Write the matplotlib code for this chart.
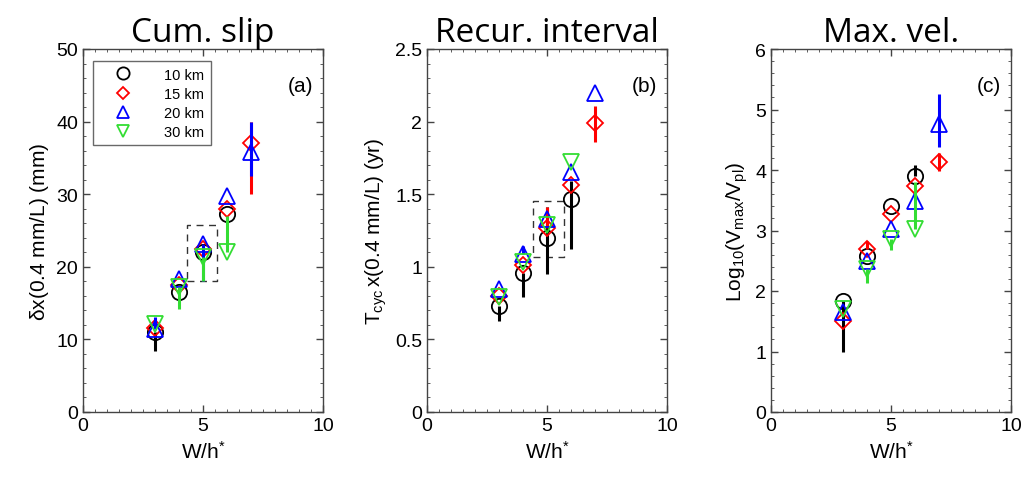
import numpy as np
import matplotlib
matplotlib.use("Agg")
import matplotlib.pyplot as plt

# ── data ──────────────────────────────────────────────────────────────────
LABELS = ["10 km", "15 km", "20 km", "30 km"]
COLORS = ["black", "red", "blue", "#33dd33"]
MARKERS = ["o", "D", "^", "v"]

W_A = [[3, 4, 5, 6], [3, 4, 5, 6, 7], [3, 4, 5, 6, 7], [3, 4, 5, 6]]
SLIP = [[11.0, 16.5, 22.0, 27.3],
        [11.6, 17.5, 22.5, 28.0, 37.0],
        [11.4, 18.3, 23.1, 29.8, 35.8],
        [12.1, 17.2, 21.3, 22.0]]
SLIP_LO = [[8.4, 16.5, 22.0, 27.3],
           [11.6, 17.5, 22.5, 28.0, 30.0],
           [11.4, 18.3, 18.0, 29.8, 32.5],
           [12.1, 14.2, 18.0, 22.0]]
SLIP_HI = [[11.0, 16.5, 22.0, 27.3],
           [11.6, 17.5, 22.5, 28.0, 40.0],
           [13.1, 18.3, 23.1, 29.8, 40.0],
           [12.1, 17.2, 21.3, 27.0]]

W_B = W_A
TCYC = [[0.73, 0.96, 1.20, 1.47],
        [0.80, 1.01, 1.27, 1.56, 1.99],
        [0.85, 1.09, 1.33, 1.65, 2.20],
        [0.79, 1.03, 1.29, 1.72]]
TCYC_LO = [[0.63, 0.79, 0.95, 1.12],
           [0.80, 1.01, 1.27, 1.56, 1.86],
           [0.85, 1.09, 1.33, 1.65, 2.20],
           [0.79, 1.03, 1.29, 1.72]]
TCYC_HI = [[0.73, 0.96, 1.41, 1.59],
           [0.80, 1.01, 1.41, 1.56, 2.11],
           [0.85, 1.14, 1.33, 1.65, 2.20],
           [0.79, 1.03, 1.29, 1.72]]

W_C = W_A
VMAX = [[1.84, 2.58, 3.40, 3.90],
        [1.51, 2.69, 3.27, 3.74, 4.13],
        [1.65, 2.50, 3.02, 3.49, 4.76],
        [1.70, 2.36, 2.86, 3.02]]
VMAX_LO = [[0.99, 2.58, 3.40, 3.90],
           [1.51, 2.69, 3.27, 3.74, 3.98],
           [1.65, 2.50, 3.02, 3.49, 4.38],
           [1.70, 2.14, 2.67, 3.02]]
VMAX_HI = [[1.84, 2.58, 3.40, 4.08],
           [1.51, 2.83, 3.27, 3.74, 4.28],
           [1.65, 2.50, 3.02, 3.49, 5.26],
           [1.70, 2.36, 2.86, 3.80]]

# dashed boxes (x0, x1, y0, y1)
BOX_A = (4.35, 5.6, 18.0, 25.7)
BOX_B = (4.4, 5.7, 1.07, 1.45)

TITLES = ["Cum. slip", "Recur. interval", "Max. vel."]
YLABELS = [r"$\mathregular{\delta x(0.4\ mm/L)\ (mm)}$",
           r"$\mathregular{T_{cyc}\, x(0.4\ mm/L)\ (yr)}$",
           r"$\mathregular{Log_{10}(V_{max}/V_{pl})}$"]
PANELS = ["(a)", "(b)", "(c)"]

plt.rcParams["font.family"] = ["Liberation Sans", "DejaVu Sans"]
plt.rcParams["mathtext.fontset"] = "custom"
plt.rcParams["mathtext.rm"] = "Liberation Sans"
plt.rcParams["mathtext.it"] = "Liberation Sans"

fig = plt.figure(figsize=(10.21, 4.85), dpi=100)
lefts = [83, 427, 771]
axes = [fig.add_axes([l / 1021, 72 / 485, 240 / 1021, 363 / 485]) for l in lefts]

data = [(W_A, SLIP, SLIP_LO, SLIP_HI), (W_B, TCYC, TCYC_LO, TCYC_HI),
        (W_C, VMAX, VMAX_LO, VMAX_HI)]
ylims = [(0, 50), (0, 2.5), (0, 6)]
ymaj = [10, 0.5, 1]
ymin = [2, 0.1, 0.2]

for i, ax in enumerate(axes):
    ws, vals, los, his = data[i]
    for k in range(4):
        x = np.array(ws[k]); v = np.array(vals[k])
        lo = v - np.array(los[k]); hi = np.array(his[k]) - v
        ax.errorbar(x, v, yerr=[lo, hi], fmt="none", ecolor=COLORS[k],
                    elinewidth=2.2, capsize=0, zorder=2 + k)
        ax.plot(x, v, linestyle="none", marker=MARKERS[k], markersize=11 if MARKERS[k] != "D" else 8,
                markerfacecolor="none", markeredgecolor=COLORS[k], markeredgewidth=1.3,
                label=LABELS[k], zorder=2 + k)
    ax.set_xlim(0, 10)
    ax.set_ylim(*ylims[i])
    ax.set_xticks([0, 5, 10])
    ax.set_xticks(np.arange(0, 10.01, 0.5), minor=True)
    ax.set_yticks(np.arange(0, ylims[i][1] + 1e-9, ymaj[i]))
    ax.set_yticks(np.arange(0, ylims[i][1] + 1e-9, ymin[i]), minor=True)
    ax.yaxis.set_major_formatter(matplotlib.ticker.FuncFormatter(lambda v, p: f"{v:g}"))
    ax.tick_params(which="both", direction="in", top=True, right=True,
                   labelsize=14, color="#444444")
    ax.tick_params(which="major", length=5, width=1)
    ax.tick_params(which="minor", length=2.5, width=0.6)
    for s in ax.spines.values():
        s.set_color("#444444"); s.set_linewidth(1.0)
    ax.set_xlabel(r"$\mathregular{W/h^{*}}$", fontsize=15)
    ax.set_ylabel(YLABELS[i], fontsize=15)
    ax.set_title(TITLES[i], fontsize=24, family=["Open Sans", "DejaVu Sans"], pad=4)
    ax.text(0.96, 0.9, PANELS[i], transform=ax.transAxes, ha="right", va="center", fontsize=15)

for ax, box in [(axes[0], BOX_A), (axes[1], BOX_B)]:
    x0, x1, y0, y1 = box
    ax.plot([x0, x1, x1, x0, x0], [y0, y0, y1, y1, y0], color="#333333",
            linestyle=(0, (5, 4)), linewidth=1.0, zorder=1)

leg = axes[0].legend(loc="upper left", bbox_to_anchor=(0.03, 0.975), fontsize=10.5,
                     frameon=True, fancybox=False, edgecolor="#444444",
                     markerscale=0.8, handlelength=3.2, handletextpad=1.2,
                     borderpad=0.45, labelspacing=0.35, borderaxespad=0.2)
leg.get_frame().set_linewidth(1.0)

fig.savefig("out.png", dpi=100)
